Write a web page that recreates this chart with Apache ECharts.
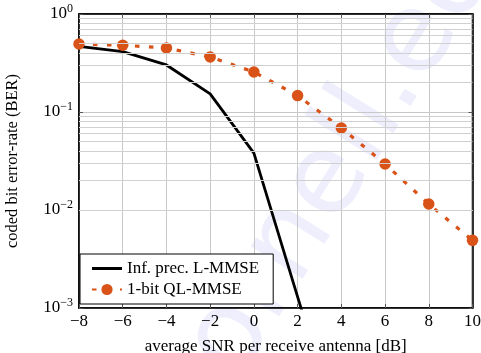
<!DOCTYPE html>
<html>
<head>
<meta charset="utf-8">
<script src="https://cdn.jsdelivr.net/npm/echarts@6/dist/echarts.min.js"></script>
<style>html,body{margin:0;padding:0;background:#fff}#c{width:481px;height:353px}</style>
</head>
<body>
<div id="c"></div>
<script>
const snr = [-8, -6, -4, -2, 0, 2, 4, 6, 8, 10];
const berLMMSE = [0.468, 0.413, 0.302, 0.153, 0.038, 0.0013, 0.000045, null, null, null];
const berQLMMSE = [0.494, 0.48, 0.45, 0.364, 0.256, 0.147, 0.0687, 0.0295, 0.0115, 0.0049];
const seriesNames = ['Inf. prec. L-MMSE', '1-bit QL-MMSE'];
const minorGrid = [];
[0.001, 0.01, 0.1].forEach(d => { for (let k = 2; k <= 9; k++) minorGrid.push(+(k * d).toPrecision(3)); });

const FONT = 'Liberation Serif';
const chart = echarts.init(document.getElementById('c'), null, {renderer: 'canvas'});
function supLabel(v) {
  const e = Math.round(Math.log10(v));
  return '{b|10}{s|' + (e < 0 ? '\u2212' + (-e) : e) + '}';
}
const richY = {
  b: {fontSize: 17, fontFamily: FONT, color: '#000'},
  s: {fontSize: 12, fontFamily: FONT, color: '#000', padding: [0, 0, 10, 0]}
};
const ang = 58 * Math.PI / 180;
chart.setOption({
  animation: false,
  backgroundColor: '#fff',
  graphic: [{
    type: 'text', x: 446, y: 100, rotation: ang, z: -10, silent: true,
    style: {text: 'ecornell.', fontSize: 112, fontFamily: 'DejaVu Sans', fontWeight: 'normal',
            fill: '#eeeefd', textAlign: 'right', textVerticalAlign: 'bottom'}
  }, {
    type: 'text', x: 446, y: 100, rotation: ang, z: -10, silent: true,
    style: {text: 'edu', fontSize: 112, fontFamily: 'DejaVu Sans', fontWeight: 'normal',
            fill: '#eeeefd', textAlign: 'left', textVerticalAlign: 'bottom'}
  }],
  grid: {left: 79, right: 8.5, top: 14, bottom: 45, outerBoundsMode: 'none', containLabel: false,
         show: true, borderColor: '#000', borderWidth: 1.5, backgroundColor: 'transparent'},
  legend: {
    orient: 'vertical', left: 80, top: 254,
    data: [{name: seriesNames[0], icon: 'path://M0 0H30V3H0Z'}, {name: seriesNames[1]}],
    itemWidth: 30, itemHeight: 14, itemGap: 4,
    padding: [6, 14, 6, 11],
    backgroundColor: '#fff', borderColor: '#000', borderWidth: 1,
    textStyle: {fontFamily: FONT, fontSize: 17, color: '#000'}
  },
  xAxis: [{
    type: 'value', min: -8, max: 10, interval: 2,
    name: 'average SNR per receive antenna [dB]', nameLocation: 'middle', nameGap: 30,
    nameTextStyle: {fontFamily: FONT, fontSize: 17, color: '#000'},
    axisLine: {show: true, onZero: false, lineStyle: {color: '#000', width: 1.5}},
    axisTick: {show: true, inside: true, length: 4, lineStyle: {color: '#555'}},
    axisLabel: {fontFamily: FONT, fontSize: 17, color: '#000', margin: 5, formatter: v => (v < 0 ? '\u2212' + (-v) : '' + v)},
    splitLine: {show: true, lineStyle: {color: '#c8c8c8', width: 1}}
  }, {
    type: 'value', min: -8, max: 10, interval: 2, position: 'top',
    axisLine: {show: true, onZero: false, lineStyle: {color: '#000', width: 1.5}},
    axisTick: {show: true, inside: true, length: 4, lineStyle: {color: '#555'}},
    axisLabel: {show: false}, splitLine: {show: false}
  }],
  yAxis: [{
    type: 'log', logBase: 10, min: 0.001, max: 1, splitNumber: 3,
    name: 'coded bit error-rate (BER)', nameLocation: 'middle', nameGap: 58,
    nameTextStyle: {fontFamily: FONT, fontSize: 16.5, color: '#000'},
    axisLine: {show: true, onZero: false, lineStyle: {color: '#000', width: 1.5}},
    axisTick: {show: true, inside: true, length: 4, lineStyle: {color: '#555'}},
    axisLabel: {formatter: supLabel, rich: richY, margin: 6},
    splitLine: {show: true, lineStyle: {color: '#c8c8c8', width: 1}}
  }, {
    type: 'log', logBase: 10, min: 0.001, max: 1, splitNumber: 3, position: 'right',
    axisLine: {show: true, onZero: false, lineStyle: {color: '#000', width: 1.5}},
    axisTick: {show: true, inside: true, length: 4, lineStyle: {color: '#555'}},
    axisLabel: {show: false}, splitLine: {show: false}
  }],
  series: [{
    name: 'minor', type: 'line', data: [], z: 1, silent: true,
    markLine: {
      silent: true, symbol: 'none', label: {show: false}, animation: false,
      lineStyle: {color: '#d0d0d0', width: 1, type: 'solid'},
      emphasis: {disabled: true},
      data: minorGrid.map(v => ({yAxis: v}))
    }
  }, {
    name: seriesNames[0], type: 'line', z: 3,
    data: snr.map((x, i) => [x, berLMMSE[i]]).filter(p => p[1] !== null),
    showSymbol: false, symbol: 'none',
    lineStyle: {color: '#000', width: 2.8},
    itemStyle: {color: '#000'}
  }, {
    name: seriesNames[1], type: 'line', z: 4,
    data: snr.map((x, i) => [x, berQLMMSE[i]]),
    symbol: 'circle', symbolSize: 11.5,
    lineStyle: {color: '#d95319', width: 3.2, type: [4.5, 9.5]},
    itemStyle: {color: '#d95319'}
  }]
});
</script>
</body>
</html>
